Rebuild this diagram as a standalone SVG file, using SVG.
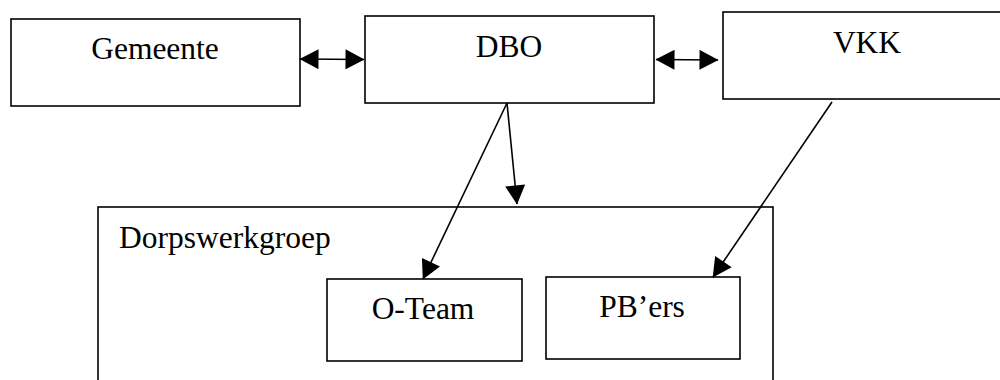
<svg xmlns="http://www.w3.org/2000/svg" width="1000" height="380" viewBox="0 0 1000 380">
<style>
.box{fill:#fff;stroke:#000;stroke-width:1.6}
.lbl{font-family:"Liberation Serif","Times New Roman",serif;font-size:31.5px;fill:#000}
.c{text-anchor:middle}
.conn{stroke:#000;stroke-width:1.6;fill:none}
</style>
<defs>
<marker id="ah" markerUnits="userSpaceOnUse" markerWidth="20" markerHeight="20" viewBox="0 0 19 20" refX="18.5" refY="10" orient="auto-start-reverse">
<path d="M0,0 L19,10 L0,20 z" fill="#000"/>
</marker>
</defs>
<g id="gemeente"><rect class="box" x="11" y="19" width="289" height="87"/><text class="lbl c" x="155" y="59">Gemeente</text></g>
<g id="dbo"><rect class="box" x="365" y="16" width="289" height="87"/><text class="lbl c" x="509" y="57">DBO</text></g>
<g id="vkk"><rect class="box" x="723" y="12" width="290" height="87"/><text class="lbl c" x="867" y="53">VKK</text></g>
<g id="dorpswerkgroep"><rect class="box" x="98" y="207" width="675" height="190"/><text class="lbl" x="119" y="248">Dorpswerkgroep</text></g>
<g id="oteam"><rect class="box" x="327" y="279" width="195" height="82"/><text class="lbl c" x="423" y="319">O-Team</text></g>
<g id="pbers"><rect class="box" x="546" y="277" width="194" height="82"/><text class="lbl c" x="642" y="317">PB’ers</text></g>
<g id="connectors">
<line class="conn" x1="300" y1="59" x2="364" y2="59.5" marker-start="url(#ah)" marker-end="url(#ah)"/>
<line class="conn" x1="656" y1="59.5" x2="718" y2="60" marker-start="url(#ah)" marker-end="url(#ah)"/>
<line class="conn" x1="507" y1="103" x2="423" y2="279" marker-end="url(#ah)"/>
<line class="conn" x1="507" y1="103" x2="517" y2="204" marker-end="url(#ah)"/>
<line class="conn" x1="832" y1="102" x2="713" y2="277" marker-end="url(#ah)"/>
</g>
</svg>
